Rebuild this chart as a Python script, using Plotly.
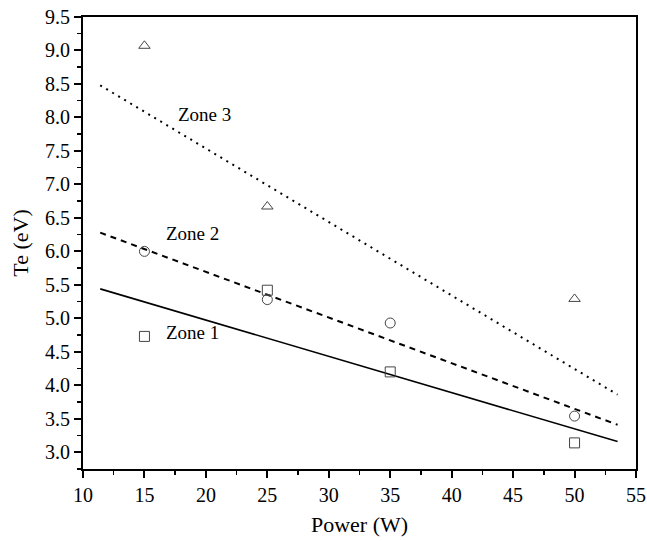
import plotly.graph_objects as go

power = [15, 25, 35, 50]
zone1_te = [4.73, 5.42, 4.20, 3.14]
zone2_te = [6.00, 5.28, 4.93, 3.54]
zone3_power = [15, 25, 50]
zone3_te = [9.07, 6.67, 5.29]

fit_x = [11.4, 53.5]
fit1_y = [5.44, 3.16]
fit2_y = [6.28, 3.41]
fit3_y = [8.48, 3.86]

labels = ["Zone 1", "Zone 2", "Zone 3"]
label_x = [18.9, 18.9, 19.9]
label_y = [4.79, 6.27, 8.04]

FONT = "Liberation Serif"
mk = dict(color="#444", size=10, line=dict(color="#444", width=1))

fig = go.Figure()
fig.add_trace(go.Scatter(x=fit_x, y=fit1_y, mode="lines", line=dict(color="black", width=1.6)))
fig.add_trace(go.Scatter(x=fit_x, y=fit2_y, mode="lines", line=dict(color="black", width=2, dash="6px,5px")))
fig.add_trace(go.Scatter(x=fit_x, y=fit3_y, mode="lines", line=dict(color="black", width=2, dash="2px,5px")))
fig.add_trace(go.Scatter(x=power, y=zone1_te, mode="markers", marker=dict(symbol="square-open", **mk)))
fig.add_trace(go.Scatter(x=power, y=zone2_te, mode="markers", marker=dict(symbol="circle-open", **mk)))
fig.add_trace(go.Scatter(x=zone3_power, y=zone3_te, mode="markers", marker=dict(symbol="triangle-up-open", **mk)))

for t, x, y in zip(labels, label_x, label_y):
    fig.add_annotation(x=x, y=y, text=t, showarrow=False, font=dict(family=FONT, size=19, color="black"))

axis_common = dict(showgrid=False, zeroline=False, showline=True, linecolor="black", linewidth=2,
                   mirror=True, ticks="outside", ticklen=7, tickwidth=2, tickcolor="black",
                   automargin=False, ticklabeloverflow="allow",
                   tickfont=dict(family=FONT, size=20, color="black"))
fig.update_xaxes(range=[10, 55], dtick=5, tick0=10,
                 minor=dict(dtick=2.5, ticks="outside", ticklen=4, tickwidth=1.5, tickcolor="black"),
                 title=dict(text="Power (W)", font=dict(family=FONT, size=22, color="black"), standoff=12),
                 **axis_common)
fig.update_yaxes(range=[2.75, 9.5], dtick=0.5, tick0=3.0, tickformat=".1f",
                 minor=dict(dtick=0.25, ticks="outside", ticklen=4, tickwidth=1.5, tickcolor="black"),
                 title=dict(text="Te (eV)", font=dict(family=FONT, size=22, color="black"), standoff=10),
                 **axis_common)
fig.update_layout(width=647, height=541, showlegend=False, plot_bgcolor="white", paper_bgcolor="white",
                  margin=dict(l=83, r=11, t=17, b=72))
fig.write_html("out.html", config={"displayModeBar": False, "staticPlot": True},
               post_script="document.body.style.margin='0px';document.body.style.overflow='hidden';")
